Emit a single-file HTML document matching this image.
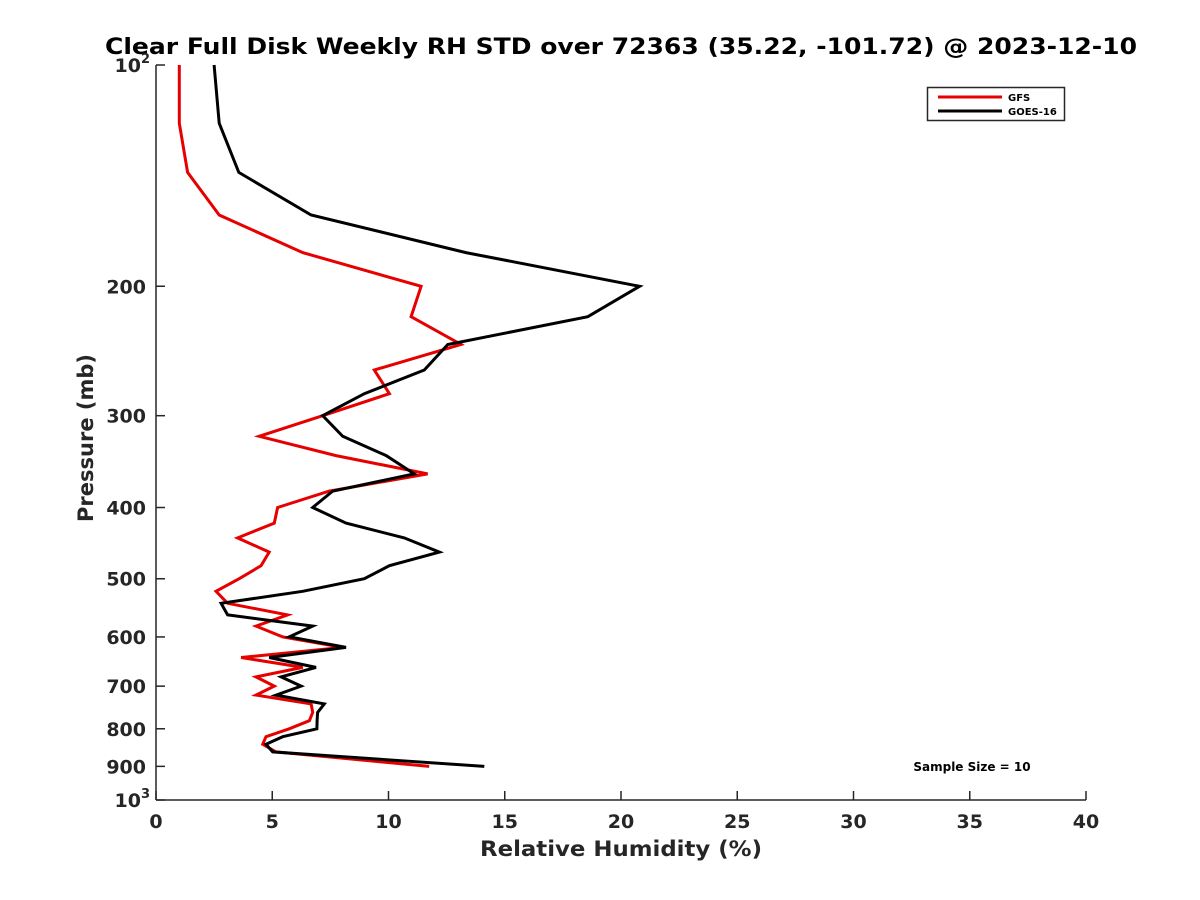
<!DOCTYPE html>
<html><head><meta charset="utf-8"><style>
html,body{margin:0;padding:0;background:#fff;}
svg{display:block;font-family:"DejaVu Sans","Liberation Sans",sans-serif;}
</style></head><body>
<svg id="chart" width="1200" height="900" viewBox="0 0 1200 900">
<rect width="1200" height="900" fill="#fff"/>
<text x="621" y="54" text-anchor="middle" font-size="22" font-weight="bold" fill="#000" textLength="1032" lengthAdjust="spacingAndGlyphs">Clear Full Disk Weekly RH STD over 72363 (35.22, -101.72) @ 2023-12-10</text>
<g id="axes"></g>
<g id="series"></g>
<g>
<rect x="927.5" y="87.5" width="137" height="33" fill="#fff" stroke="#262626" stroke-width="1.5"/>
<line x1="938" y1="97" x2="1002" y2="97" stroke="#e60000" stroke-width="3"/>
<text x="1008" y="101" font-size="10" font-weight="bold" fill="#000">GFS</text>
<line x1="938" y1="111" x2="1002" y2="111" stroke="#000" stroke-width="3"/>
<text x="1008" y="115" font-size="10" font-weight="bold" fill="#000">GOES-16</text>
</g>
<text x="972" y="771" text-anchor="middle" font-size="12" font-weight="bold" fill="#000">Sample Size = 10</text>
<text x="621" y="856" text-anchor="middle" font-size="21" font-weight="bold" fill="#262626" textLength="282" lengthAdjust="spacingAndGlyphs">Relative Humidity (%)</text>
<text transform="translate(93,438) rotate(-90)" text-anchor="middle" font-size="21" font-weight="bold" fill="#262626" textLength="168" lengthAdjust="spacingAndGlyphs">Pressure (mb)</text>
</svg>
<script>
const pressures = [100,120,140,160,180,200,220,240,260,280,300,320,340,360,380,400,420,440,460,480,500,520,540,560,580,600,620,640,660,680,700,720,740,760,780,800,820,840,860,900];
const gfsValues = [1.0,1.0,1.36,2.72,6.31,11.4,10.97,13.12,9.39,10.04,7.17,4.44,7.74,11.68,7.45,5.23,5.09,3.51,4.87,4.52,3.58,2.58,3.08,5.66,4.3,5.45,8.03,3.66,6.31,4.3,5.09,4.3,6.67,6.74,6.6,5.73,4.73,4.59,5.16,11.75];
const goesValues = [2.5,2.72,3.56,6.67,13.33,20.8,18.57,12.55,11.54,8.96,7.17,8.03,9.9,11.11,7.6,6.74,8.17,10.68,12.19,10.04,8.96,6.31,2.8,3.08,6.74,5.73,8.17,4.87,6.88,5.38,6.24,5.16,7.24,6.95,6.93,6.92,5.45,4.73,5.02,14.12];
const xTicks = [0,5,10,15,20,25,30,35,40];
const yTicks = [100,200,300,400,500,600,700,800,900,1000];
const yTickLabels = ["10²","200","300","400","500","600","700","800","900","10³"];

const L=156,R=1086,T=65,B=800;
const xMin=0,xMax=40,pMin=100,pMax=1000;
function xs(v){return L+(v-xMin)/(xMax-xMin)*(R-L);}
function ys(p){return T+(Math.log10(p)-Math.log10(pMin))/(Math.log10(pMax)-Math.log10(pMin))*(B-T);}
const NS="http://www.w3.org/2000/svg";
function mk(tag,attrs,parent){const e=document.createElementNS(NS,tag);for(const k in attrs)e.setAttribute(k,attrs[k]);parent.appendChild(e);return e;}
const axes=document.getElementById('axes');
let el=mk('line',{x1:L,y1:T,x2:L,y2:B,stroke:'#262626','stroke-width':1.5},axes);


el=mk('line',{x1:L,y1:B,x2:R,y2:B,stroke:'#262626','stroke-width':1.5},axes);


xTicks.forEach(v=>{
  const x=xs(v);
  let t=mk('line',{x1:x,y1:B,x2:x,y2:B-9,stroke:'#262626','stroke-width':1.5},axes);
  
  
  let lb=mk('text',{x:x,y:828,'text-anchor':'middle','font-size':19,'font-weight':'bold',fill:'#262626'},axes);
  lb.textContent=String(v);
  
  
});
yTicks.forEach((p,i)=>{
  const y=ys(p);
  let t=mk('line',{x1:L,y1:y,x2:L+9,y2:y,stroke:'#262626','stroke-width':1.5},axes);
  
  
  let lb=mk('text',{x:146,y:y+7,'text-anchor':'end','font-size':19,'font-weight':'bold',fill:'#262626'},axes);
  const s=yTickLabels[i];
  if(s.indexOf('10')===0 && s.length===3){
    lb.textContent='10';
    const sup=mk('tspan',{dy:-9,'font-size':13},lb);
    sup.textContent=s==='10²'?'2':'3';
    lb.setAttribute('x',150);
  } else lb.textContent=s;
  
  
});
const series=document.getElementById('series');
function draw(vals,color,name){
  const pts=vals.map((v,i)=>xs(v).toFixed(1)+','+ys(pressures[i]).toFixed(1)).join(' ');
  const pl=mk('polyline',{points:pts,fill:'none',stroke:color,'stroke-width':3,'stroke-linejoin':'miter'},series);
  
  
}
draw(gfsValues,'#e60000','gfs-line');
draw(goesValues,'#000000','goes16-line');
</script>
</body></html>
